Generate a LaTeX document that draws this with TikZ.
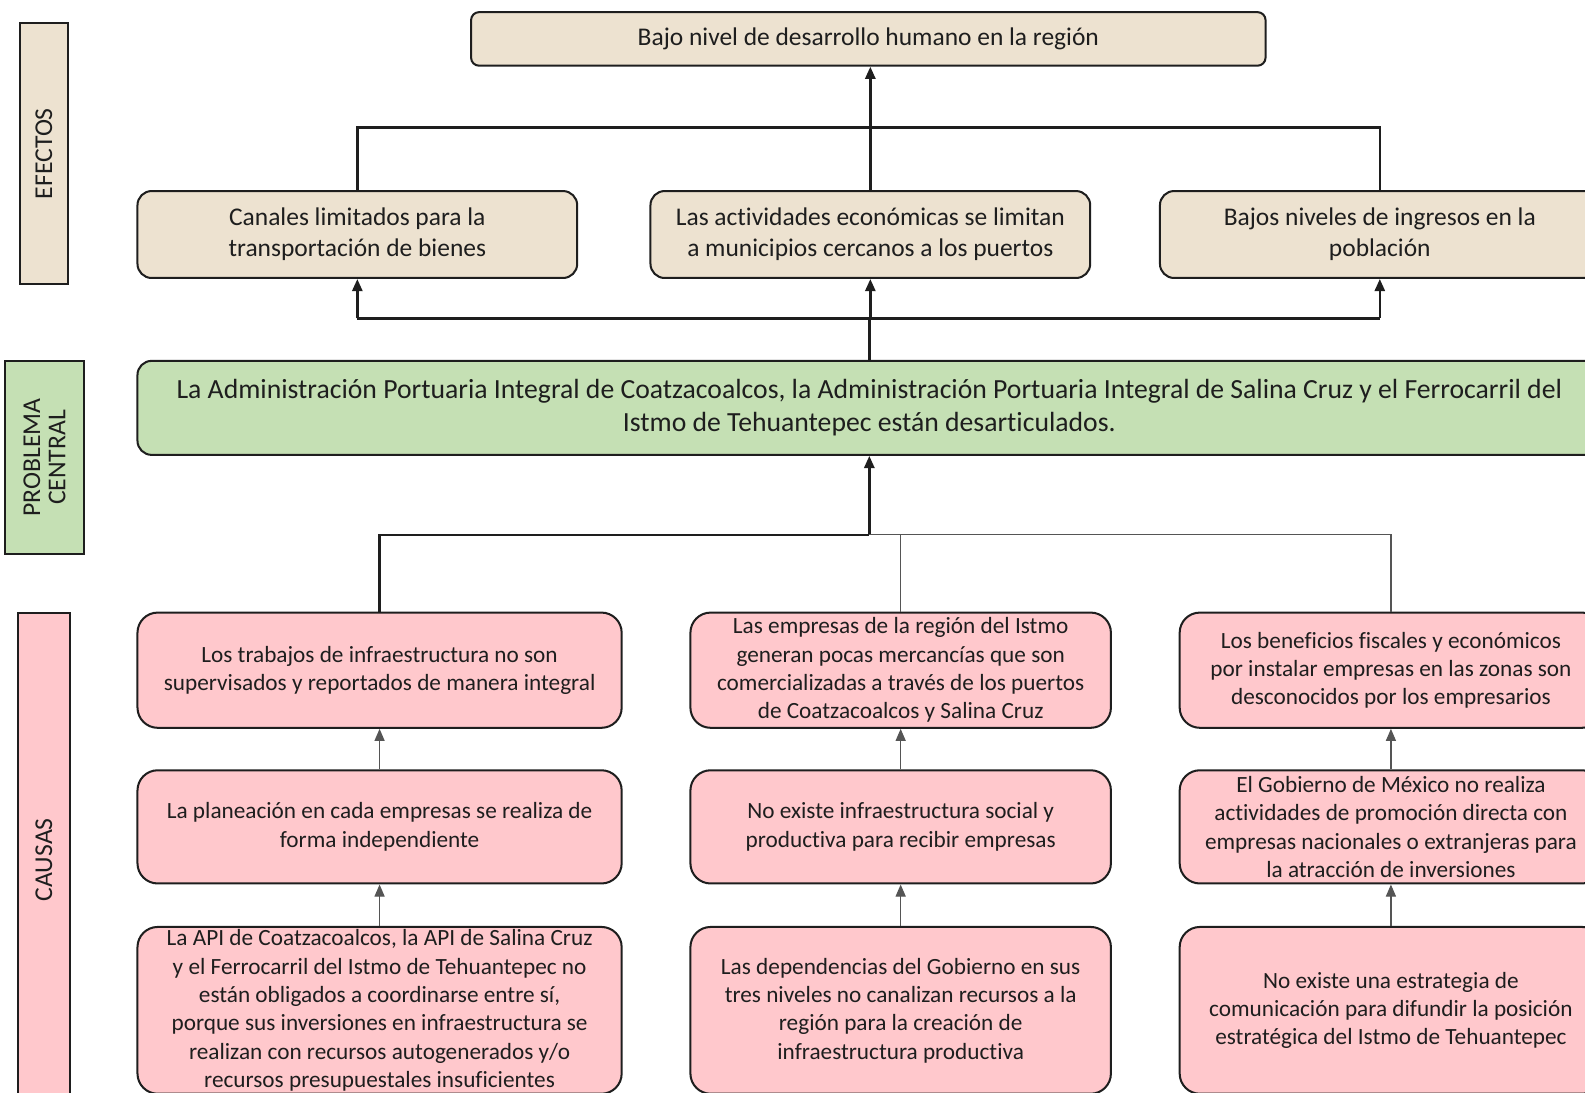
\documentclass[tikz,border=0pt]{standalone}
\usepackage{fontspec}
\setmainfont[Ligatures={NoCommon}]{Carlito}
\usetikzlibrary{arrows.meta}
\definecolor{beige}{RGB}{237,226,208}
\definecolor{lgreen}{RGB}{197,224,180}
\definecolor{lpink}{RGB}{255,200,204}
\definecolor{ink}{RGB}{30,30,30}
\definecolor{thingray}{RGB}{85,85,85}
\begin{document}
\begin{tikzpicture}[x=0.5pt,y=-0.5pt,
  box/.style={draw=ink, line width=1pt, align=center, inner sep=0pt, text=ink},
  topbox/.style={box, fill=beige, rounded corners=4pt, minimum width=393pt, minimum height=26.5pt, font=\fontsize{12.6}{15.5}\selectfont},
  effbox/.style={box, fill=beige, rounded corners=7pt, minimum width=217.5pt, minimum height=43pt, font=\fontsize{12.6}{15.5}\selectfont},
  cenbox/.style={box, fill=lgreen, rounded corners=7pt, minimum width=724pt, minimum height=46.5pt, font=\fontsize{13.7}{16.5}\selectfont},
  causebox/.style={box, fill=lpink, rounded corners=10pt, font=\fontsize{11.5}{14}\selectfont},
  colA/.style={causebox, minimum width=239.5pt},
  colB/.style={causebox, minimum width=208pt},
  colC/.style={causebox, minimum width=209pt},
  rowA/.style={minimum height=57pt},
  rowB/.style={minimum height=56pt},
  rowC/.style={minimum height=82.5pt},
  sidelabel/.style={draw=ink, line width=1pt, align=center, inner sep=0pt, text=ink, rotate=90, font=\fontsize{12.7}{12.5}\selectfont},
  thk/.style={draw=ink, line width=1.2pt},
  thn/.style={draw=thingray, line width=0.6pt},
  arr/.style={-{Triangle[length=6pt,width=5pt]}}
]
\useasboundingbox (0,0) rectangle (1568,1081);

% side labels
\node[sidelabel, fill=beige, minimum width=129pt, minimum height=23.5pt] (lef) at (43.5,152) {EFECTOS};
\node[sidelabel, fill=lgreen, minimum width=95.5pt, minimum height=39pt] (lpc) at (44,452.5) {PROBLEMA\\CENTRAL};
\node[sidelabel, fill=lpink, minimum width=244.5pt, minimum height=25.5pt] (lca) at (43.5,850.5) {CAUSAS};

% top effect
\node[topbox] (top) at (859,38.5) {Bajo nivel de desarrollo humano en la región};

% effects
\node[effbox] (e1) at (353.5,232) {Canales limitados para la\\transportación de bienes};
\node[effbox] (e2) at (861,232) {Las actividades económicas se limitan\\a municipios cercanos a los puertos};
\node[effbox] (e3) at (1365,232) {Bajos niveles de ingresos en la\\población};

% central problem
\node[cenbox] (cen) at (860,403.5) {La Administración Portuaria Integral de Coatzacoalcos, la Administración Portuaria Integral de Salina Cruz y el Ferrocarril del\\Istmo de Tehuantepec están desarticulados.};

% causes
\node[colA,rowA] (c11) at (375.5,663) {Los trabajos de infraestructura no son\\supervisados y reportados de manera integral};
\node[colA,rowB] (c12) at (375.5,818) {La planeación en cada empresas se realiza de\\forma independiente};
\node[colA,rowC] (c13) at (375.5,999.5) {La API de Coatzacoalcos, la API de Salina Cruz\\y el Ferrocarril del Istmo de Tehuantepec no\\están obligados a coordinarse entre sí,\\porque sus inversiones en infraestructura se\\realizan con recursos autogenerados y/o\\recursos presupuestales insuficientes};

\node[colB,rowA] (c21) at (891,663) {Las empresas de la región del Istmo\\generan pocas mercancías que son\\comercializadas a través de los puertos\\de Coatzacoalcos y Salina Cruz};
\node[colB,rowB] (c22) at (891,818) {No existe infraestructura social y\\productiva para recibir empresas};
\node[colB,rowC] (c23) at (891,999.5) {Las dependencias del Gobierno en sus\\tres niveles no canalizan recursos a la\\región para la creación de\\infraestructura productiva};

\node[colC,rowA] (c31) at (1376,663) {Los beneficios fiscales y económicos\\por instalar empresas en las zonas son\\desconocidos por los empresarios};
\node[colC,rowB] (c32) at (1376,818) {El Gobierno de México no realiza\\actividades de promoción directa con\\empresas nacionales o extranjeras para\\la atracción de inversiones};
\node[colC,rowC] (c33) at (1376,999.5) {No existe una estrategia de\\comunicación para difundir la posición\\estratégica del Istmo de Tehuantepec};

% connectors: effects to top
\draw[thk] (e1.north) -- ++(0,-62) -| (e3.north);
\draw[thk,arr] (e2.north) -- (e2.north |- top.south);

% central to effects
\draw[thk] (cen.north) -- ++(0,-41) coordinate (j1);
\draw[thk] (e1.south |- j1) -- (e3.south |- j1);
\draw[thk,arr] (e1.south |- j1) -- (e1.south);
\draw[thk,arr] (e2.south |- j1) -- (e2.south);
\draw[thk,arr] (e3.south |- j1) -- (e3.south);

% causes to central
\path (cen.south) ++(0,78) coordinate (j2);
\draw[thk,arr] (j2) -- (cen.south);
\draw[thk] (c11.north) |- (j2);
\draw[thn] (j2) -| (c31.north);
\draw[thn] (c21.north) -- (c21.north |- j2);

% cause chains
\draw[thn,arr] (c12.north) -- (c11.south);
\draw[thn,arr] (c13.north) -- (c12.south);
\draw[thn,arr] (c22.north) -- (c21.south);
\draw[thn,arr] (c23.north) -- (c22.south);
\draw[thn,arr] (c32.north) -- (c31.south);
\draw[thn,arr] (c33.north) -- (c32.south);
\end{tikzpicture}
\end{document}
